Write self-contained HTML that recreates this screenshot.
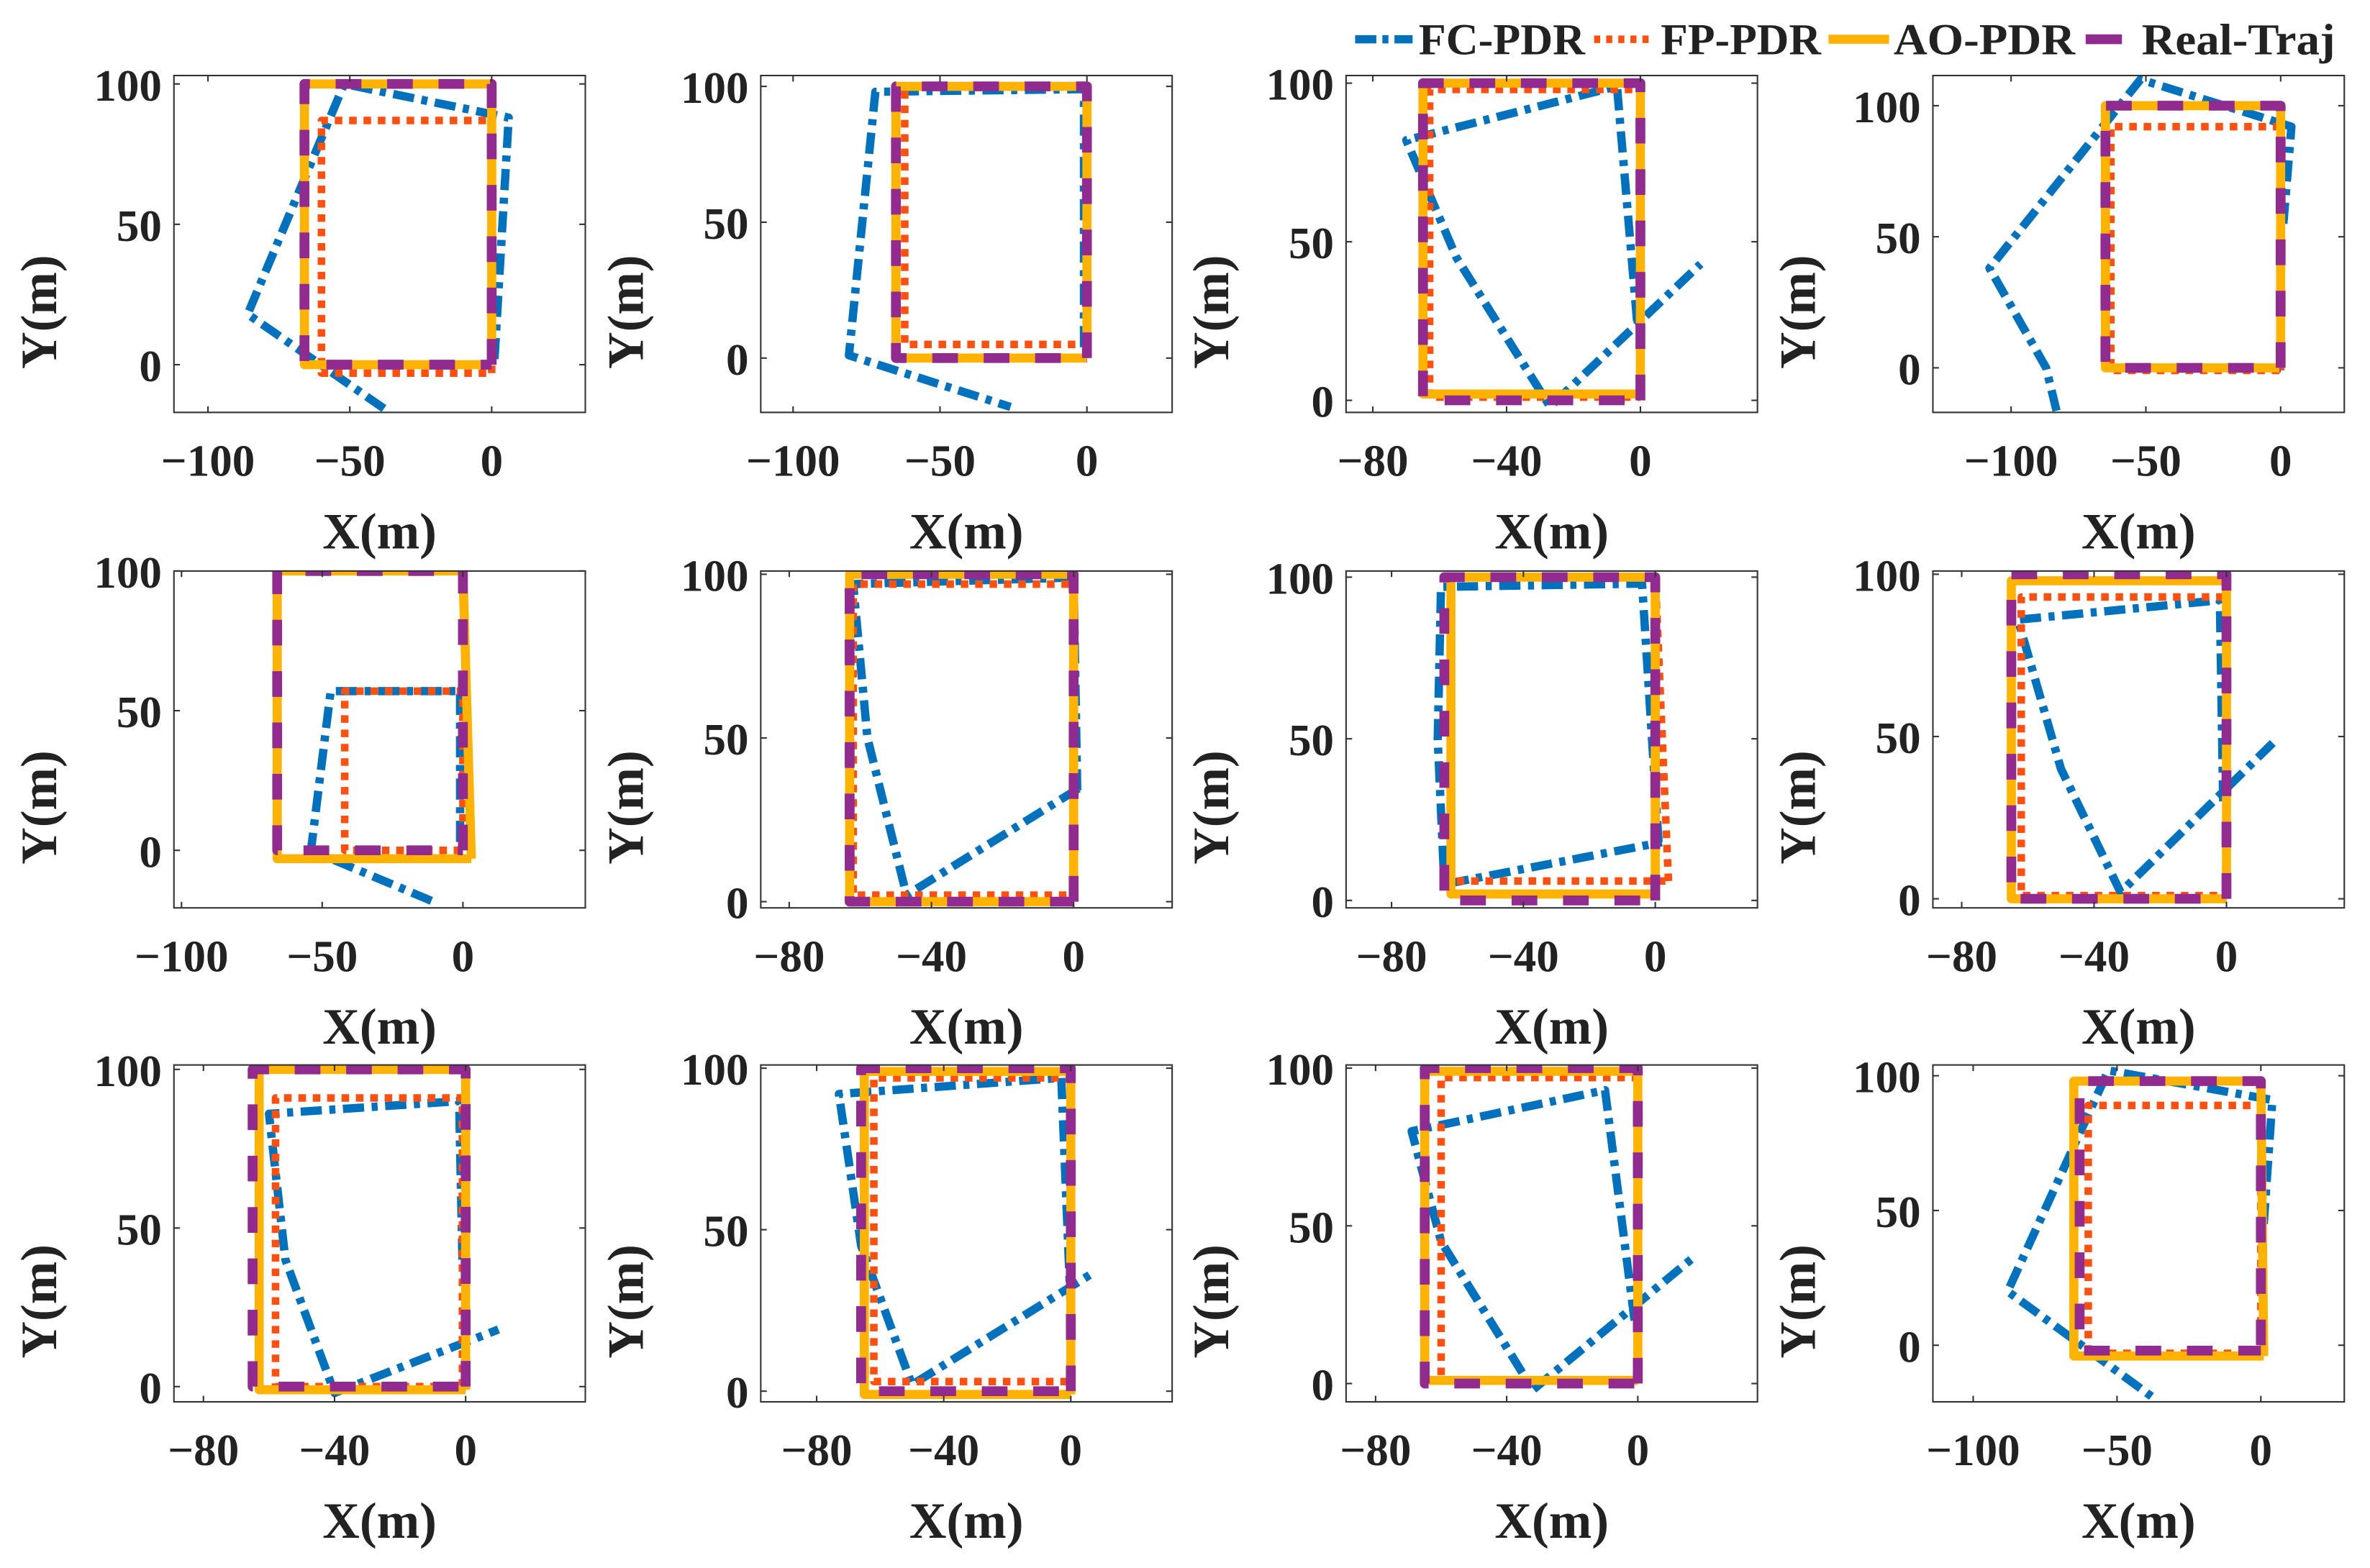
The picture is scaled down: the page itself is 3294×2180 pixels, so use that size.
<!DOCTYPE html>
<html><head><meta charset="utf-8"><title>PDR trajectories</title>
<style>
html,body{margin:0;padding:0;background:#fff;}
svg{display:block;}
text{font-family:"Liberation Serif",serif;font-weight:bold;fill:#222;}
</style></head>
<body>
<svg id="fig" xmlns="http://www.w3.org/2000/svg" width="3294" height="2180" viewBox="0 0 1567 1038" preserveAspectRatio="none">
<g id="legend" transform="translate(6,0)">
  <g>
    <line x1="890" y1="26" x2="928" y2="26" stroke="#0072BD" stroke-width="5.5" stroke-dasharray="14 4 4 4"/>
    <text x="932" y="36" font-size="29" textLength="110" lengthAdjust="spacingAndGlyphs">FC-PDR</text>
  </g>
  <g>
    <line x1="1048" y1="26" x2="1088" y2="26" stroke="#FF5010" stroke-width="5" stroke-dasharray="4 4"/>
    <text x="1092" y="36" font-size="29" textLength="106" lengthAdjust="spacingAndGlyphs">FP-PDR</text>
  </g>
  <g>
    <line x1="1203" y1="26" x2="1243" y2="26" stroke="#FFB300" stroke-width="6"/>
    <text x="1246" y="36" font-size="29" textLength="120" lengthAdjust="spacingAndGlyphs">AO-PDR</text>
  </g>
  <g>
    <line x1="1373" y1="26" x2="1397" y2="26" stroke="#912B8F" stroke-width="6.5"/>
    <text x="1410" y="36" font-size="29" textLength="128" lengthAdjust="spacingAndGlyphs">Real-Traj</text>
  </g>
</g>
</svg>
<script>
// ---- data (per panel, in metres) ----
const xLims = [[-112,33],[-111,29],[-88,35],[-129,23.6],[-102.7,43.5],[-88,27.7],[-93.8,31],[-88.7,35.6],[-89,36.5],[-97.6,31.9],[-89,36.5],[-114,29]];
const yLims = [[-17,103],[-20,104],[-3.8,102.4],[-17,111.5],[-20.6,100],[-1.9,101],[-2.3,101.9],[-2.8,101],[-4.8,101.4],[-3.3,101],[-5.8,101],[-21,104]];
const xTicksA = [-100,-50,0];
const xTicksB = [-80,-40,0];
const yTicks = [0,50,100];
const xTickSet = ['A','A','B','A','A','B','B','B','B','B','B','A'];
const realTraj = [
 [[0,0],[0,100],[-66,100],[-66,0],[0,0]],
 [[0,0],[0,100],[-65,100],[-65,0],[0,0]],
 [[0,0],[0,100],[-65,100],[-65,0],[0,0]],
 [[0,0],[0,100],[-65,100],[-65,0],[0,0]],
 [[0,0],[0,100],[-66,100],[-66,0],[0,0]],
 [[0,0],[0,100],[-63,100],[-63,0],[0,0]],
 [[0,0],[0,100],[-64,100],[-64,0],[0,0]],
 [[0,0],[0,100],[-65,100],[-65,0],[0,0]],
 [[0,0],[0,100],[-65,100],[-65,0],[0,0]],
 [[0,0],[0,100],[-66,100],[-66,0],[0,0]],
 [[0,0],[0,100],[-65,100],[-65,0],[0,0]],
 [[0,0],[0,98],[-63,98],[-63,-2],[0,-2]]
];
const aoTraj = [
 [[0,0],[0,100],[-66,100],[-66,0],[0,0]],
 [[0,0],[0,100],[-65,100],[-65,0],[0,0]],
 [[0,2],[0,100],[-65,100],[-65,2],[0,2]],
 [[0,0],[0,100],[-65,100],[-65,0],[0,0]],
 [[3,-3],[0,100],[-66,100],[-66,-3],[3,-3]],
 [[0,0],[0,100],[-63,100],[-63,0],[0,0]],
 [[0,2],[0,100],[-62,100],[-62,2],[0,2]],
 [[0,0],[0,98],[-65,98],[-65,0],[0,0]],
 [[0,-1],[0,100],[-63,100],[-63,-1],[0,-1]],
 [[0,-1],[0,99],[-65,99],[-65,-1],[0,-1]],
 [[0,1],[0,99],[-65,99],[-65,1],[0,1]],
 [[1,-4],[0,98],[-65,98],[-65,-4],[1,-4]]
];
const fpTraj = [
 [[0,-3],[0,87],[-60,87],[-60,-3],[0,-3]],
 [[0,5],[0,100],[-62,100],[-62,5],[0,5]],
 [[0,1],[0,98],[-63,98],[-63,1],[0,1]],
 [[0,-1],[0,92],[-63,92],[-63,-1],[0,-1]],
 [[0,0],[0,57],[-42,57],[-42,0],[0,0]],
 [[0,2],[0,97],[-62,97],[-62,2],[0,2]],
 [[4,6],[0,100],[-62,100],[-62,6],[4,6]],
 [[0,1],[0,93],[-62,93],[-62,1],[0,1]],
 [[-1,0],[-1,91],[-58,91],[-58,0],[-1,0]],
 [[0,3],[0,97],[-62,97],[-62,3],[0,3]],
 [[0,1],[0,97],[-60,97],[-60,1],[0,1]],
 [[0,-3],[0,89],[-60,89],[-60,-3],[0,-3]]
];
const fcTraj = [
 [[1,2],[6,88],[-52,100],[-86,18],[-36,-17]],
 [[-1,4],[-1,99],[-72,98],[-81,1],[-26,-18]],
 [[-1,25],[-7,99],[-70,82],[-55,45],[-27,-2],[18,43]],
 [[1,55],[4,92],[-52,110],[-108,38],[-87,0],[-83,-17]],
 [[-1,3],[-1,57],[-47,57],[-54,0],[-9,-19]],
 [[1,34],[0,99],[-62,97],[-58,50],[-47,2],[2,35]],
 [[1,18],[-4,98],[-65,97],[-66,50],[-64,5],[2,18]],
 [[-1,30],[-2,92],[-63,86],[-50,40],[-32,2],[14,48]],
 [[-1,40],[-2,90],[-60,86],[-55,40],[-40,-2],[10,18]],
 [[0,25],[-3,97],[-73,92],[-66,45],[-50,2],[6,36]],
 [[-1,20],[-10,93],[-69,80],[-60,45],[-32,-2],[17,40]],
 [[1,45],[4,91],[-53,102],[-88,20],[-38,-19]]
];
// ---- layout ----
const colX = [115,503,890,1278];
const rowY = [50,378,705];
const W = 272, H = 223;
const NS = 'http://www.w3.org/2000/svg';
const svg = document.getElementById('fig');
const legend = document.getElementById('legend');
function mk(tag, attrs, parent){
  const e = document.createElementNS(NS, tag);
  for (const k in attrs) e.setAttribute(k, attrs[k]);
  parent.appendChild(e);
  return e;
}
const styles = {
  fc:{stroke:'#0072BD',w:5.5,dash:'14 5 4 5'},
  fp:{stroke:'#FF5010',w:5,dash:'5 4.5'},
  ao:{stroke:'#FFB300',w:6,dash:''},
  real:{stroke:'#912B8F',w:6.5,dash:'17 17'}
};
for (let i = 0; i < 12; i++) {
  const r = Math.floor(i/4), c = i%4;
  const x0 = colX[c], y0 = rowY[r];
  const xl = xLims[i], yl = yLims[i];
  const sx = v => x0 + (v - xl[0]) / (xl[1]-xl[0]) * W;
  const sy = v => y0 + H - (v - yl[0]) / (yl[1]-yl[0]) * H;
  const g = mk('g', {}, svg);
  
  
  const bg = mk('rect', {x:x0, y:y0, width:W, height:H, fill:'#fff'}, g);
  
  
  const clipId = 'clip' + i;
  const cp = mk('clipPath', {id:clipId}, g);
  mk('rect', {x:x0, y:y0, width:W, height:H}, cp);
  const lines = mk('g', {'clip-path':'url(#'+clipId+')'}, g);
  const series = [['fc', fcTraj[i]], ['fp', fpTraj[i]], ['ao', aoTraj[i]], ['real', realTraj[i]]];
  for (const [key, pts] of series) {
    const st = styles[key];
    const d = pts.map((p,j) => (j?'L':'M') + sx(p[0]).toFixed(2) + ' ' + sy(p[1]).toFixed(2)).join(' ');
    const p = mk('path', {d:d, fill:'none', stroke:st.stroke, 'stroke-width':st.w, 'stroke-linejoin':'round'}, lines);
    if (st.dash) p.setAttribute('stroke-dasharray', st.dash);
    
    
  }
  const frame = mk('rect', {x:x0, y:y0, width:W, height:H, fill:'none', stroke:'#333', 'stroke-width':1}, g);
  
  
  const xt = xTickSet[i] === 'A' ? xTicksA : xTicksB;
  for (const v of xt) {
    const X = sx(v);
    mk('line', {x1:X, y1:y0+H, x2:X, y2:y0+H-4, stroke:'#333', 'stroke-width':1}, g);
    mk('line', {x1:X, y1:y0, x2:X, y2:y0+4, stroke:'#333', 'stroke-width':1}, g);
    const t = mk('text', {x:X, y:y0+H+42, 'font-size':30, 'text-anchor':'middle'}, g);
    t.textContent = v < 0 ? '\u2212' + Math.abs(v) : String(v);
    
    
  }
  for (const v of yTicks) {
    const Y = sy(v);
    mk('line', {x1:x0, y1:Y, x2:x0+4, y2:Y, stroke:'#333', 'stroke-width':1}, g);
    mk('line', {x1:x0+W, y1:Y, x2:x0+W-4, y2:Y, stroke:'#333', 'stroke-width':1}, g);
    const t = mk('text', {x:x0-8, y:Y+11, 'font-size':30, 'text-anchor':'end'}, g);
    t.textContent = String(v);
    
    
  }
  const xlab = mk('text', {x:x0+136, y:y0+H+90, 'font-size':34, 'text-anchor':'middle'}, g);
  xlab.textContent = 'X(m)';
  
  
  const cy = y0 + H/2 + 45;
  const ylab = mk('text', {x:x0-78, y:cy, 'font-size':34, 'text-anchor':'middle', transform:'rotate(-90 '+(x0-78)+' '+cy+')'}, g);
  ylab.textContent = 'Y(m)';
  
  
}
svg.appendChild(legend);
</script>
</body></html>
